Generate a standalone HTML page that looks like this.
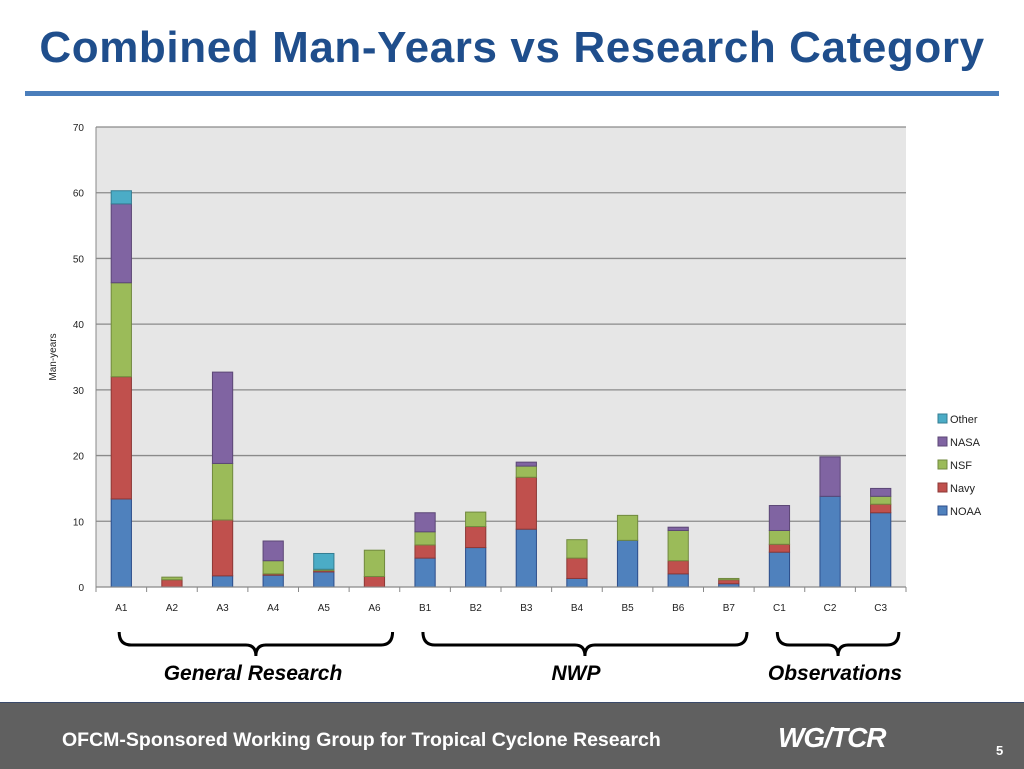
<!DOCTYPE html>
<html><head><meta charset="utf-8"><style>
body{margin:0;width:1024px;height:768px;background:#fff;position:relative;overflow:hidden;font-family:"Liberation Sans",sans-serif}
#title{position:absolute;left:0;top:23px;width:1024px;text-align:center;font-size:44px;font-weight:bold;color:#1f4e8c;letter-spacing:0.6px}
#rule{position:absolute;left:25px;top:91px;width:974px;height:5px;background:#4a7ebb}
#footer{position:absolute;left:0;top:702px;width:1024px;height:66px;background:#606060;border-top:1px solid #3a4a6a}
</style></head><body>
<div id="title">Combined Man-Years vs Research Category</div>
<div id="rule"></div>
<svg id="chart" width="1024" height="700" style="position:absolute;left:0;top:0"></svg>
<div id="footer">
<div style="position:absolute;left:62px;top:26px;color:#fff;font-weight:bold;font-size:19.5px;letter-spacing:0px">OFCM-Sponsored Working Group for Tropical Cyclone Research</div>
<div style="position:absolute;left:778px;top:19px;color:#fff;font-weight:bold;font-style:italic;font-size:28px;letter-spacing:-1px">WG/TCR</div>
<div style="position:absolute;left:996px;top:40px;color:#fff;font-weight:bold;font-size:13px">5</div>
</div>
<script>
const categories=["A1","A2","A3","A4","A5","A6","B1","B2","B3","B4","B5","B6","B7","C1","C2","C3"];
const seriesNames=["NOAA","Navy","NSF","NASA","Other"];
const noaa=[13.4,0,1.7,1.8,2.3,0,4.4,6.0,8.8,1.3,7.1,2.0,0.5,5.3,13.8,11.3];
const navy=[18.6,1.1,8.5,0.2,0.2,1.6,2.0,3.2,7.9,3.1,0,2.0,0.6,1.2,0,1.3];
const nsf=[14.3,0.4,8.6,2.0,0.2,4.0,2.0,2.2,1.7,2.8,3.8,4.6,0.2,2.1,0,1.2];
const nasa=[12.0,0,13.9,3.0,0,0,2.9,0,0.6,0,0,0.5,0,3.8,6.0,1.2];
const other=[2.0,0,0,0,2.4,0,0,0,0,0,0,0,0,0,0,0];
const yTicks=[0,10,20,30,40,50,60,70];
const groupLabels=["General Research","NWP","Observations"];
const groupRanges=[[0,5],[6,12],[13,15]];

const series=[noaa,navy,nsf,nasa,other];
const fills=["#4f81bd","#c0504d","#9bbb59","#8064a2","#4bacc6"];
const strokes=["#2c4d8a","#8c3836","#71893f","#5c4776","#357d92"];
const L=96,R=906,T=127,B=587,ymax=70;
const svg=document.getElementById('chart');
const NS="http://www.w3.org/2000/svg";
const y=v=>B-(v/ymax)*(B-T);
const bw=(R-L)/categories.length;
const x=i=>L+bw*i;
function mk(t,a,parent){const e=document.createElementNS(NS,t);for(const k in a)e.setAttribute(k,a[k]);(parent||svg).appendChild(e);return e;}
const bg=mk('rect',{x:L,y:T,width:R-L,height:B-T,fill:'#e6e6e6'});


yTicks.forEach(t=>{
  const g=mk('line',{x1:L,x2:R,y1:y(t),y2:y(t),stroke:'#8a8a8a','stroke-width':1.3});
  
  
  const tx=mk('text',{x:L-12,y:y(t)+4,'text-anchor':'end','font-size':10,fill:'#222'});
  tx.textContent=t;
  
  
});
mk('line',{x1:L,x2:L,y1:T,y2:B,stroke:'#888'});
categories.forEach((c,i)=>{
  const tk=mk('line',{x1:x(i),x2:x(i),y1:B,y2:B+5,stroke:'#888'});
  
  
  let acc=0;
  series.forEach((s,k)=>{
    const v=s[i];if(v<=0)return;
    const r=mk('rect',{x:x(i)+bw*0.3,y:y(acc+v),width:bw*0.4,height:y(acc)-y(acc+v),fill:fills[k],stroke:strokes[k],'stroke-width':1});
    
    
    acc+=v;
  });
  const lt=mk('text',{x:x(i)+bw/2,y:B+24,'text-anchor':'middle','font-size':10,fill:'#222'});
  lt.textContent=c;
  
  
});
mk('line',{x1:R,x2:R,y1:B,y2:B+5,stroke:'#888'});
mk('line',{x1:L,x2:R,y1:B,y2:B,stroke:'#888'});
const yt=mk('text',{x:0,y:0,transform:'translate(56,357) rotate(-90)','text-anchor':'middle','font-size':10,fill:'#222'});
yt.textContent='Man-years';


for(let k=4;k>=0;k--){
  const ly=419+(4-k)*23;
  const lr=mk('rect',{x:938,y:ly-5,width:9,height:9,fill:fills[k],stroke:strokes[k]});
  
  
  const lt=mk('text',{x:950,y:ly+4,'font-size':11,fill:'#222'});
  lt.textContent=seriesNames[k];
  
  
}
groupRanges.forEach((g,j)=>{
  const x1=x(g[0])+bw*0.3+8,x2=x(g[1])+bw*0.7+8,xm=(x1+x2)/2,y0=632,y1=645;
  const p=mk('path',{d:`M${x1},${y0} Q${x1},${y1} ${x1+12},${y1} L${xm-10},${y1} Q${xm},${y1} ${xm},${y1+11} Q${xm},${y1} ${xm+10},${y1} L${x2-12},${y1} Q${x2},${y1} ${x2},${y0}`,fill:'none',stroke:'#000','stroke-width':3});
  
  
  const t=mk('text',{x:[253,576,835][j],y:680,'text-anchor':'middle','font-size':21,'font-weight':'bold','font-style':'italic',fill:'#000'});
  t.textContent=groupLabels[j];
  
  
});
</script>
</body></html>
